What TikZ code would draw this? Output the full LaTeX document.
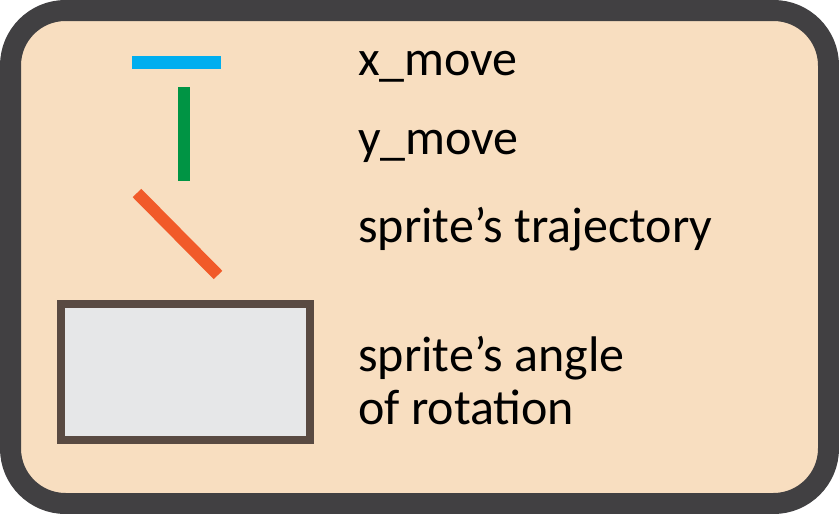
\documentclass[tikz,border=0pt]{standalone}
\usepackage{fontspec}
\setmainfont{Carlito}
\usetikzlibrary{positioning}
\definecolor{frame-dark}{HTML}{414042}
\definecolor{frame-fill}{HTML}{F8DEC0}
\definecolor{move-x}{HTML}{00AEEF}
\definecolor{move-y}{HTML}{009444}
\definecolor{traj}{HTML}{F15A29}
\definecolor{sprite-edge}{HTML}{594A42}
\definecolor{sprite-fill}{HTML}{E6E7E8}
\tikzset{
  legend-frame/.style={draw=frame-dark,fill=frame-fill,line width=21pt,rounded corners=55pt},
  legend-bar/.style={line width=13pt},
  legend-sprite/.style={draw=sprite-edge,fill=sprite-fill,line width=8pt},
  legend-text/.style={anchor=base west,inner sep=0pt,font=\fontsize{50}{53}\selectfont,align=left},
}

\begin{document}
\begin{tikzpicture}[x=1pt,y=-1pt]

  \useasboundingbox (0,0) rectangle (839,514);
  \draw[legend-frame] (10.5,10.5) rectangle (828.5,503.5);

  % symbols
  \draw[legend-bar,move-x] (132,62.5) -- (221,62.5);
  \draw[legend-bar,move-y,line width=12pt] (184,87) -- (184,181);
  \draw[legend-bar,traj,line width=12pt] (137,193) -- (218,275);
  \draw[legend-sprite] (61,304) rectangle (310,440);

  % labels
  \node[legend-text] (lab-x)    at (358,75)  {x\_move};
  \node[legend-text] (lab-y)    at (358,154) {y\_move};
  \node[legend-text] (lab-traj) at (358,242) {sprite’s trajectory};
  \node[legend-text] (lab-rot)  at (358,424) {sprite’s angle\\of rotation};

\end{tikzpicture}
\end{document}
